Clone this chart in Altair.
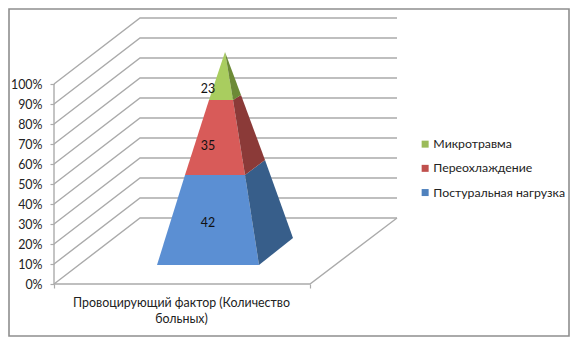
import altair as alt
import pandas as pd

FONT = "Lato"
GRID = "#ABABAB"
TEXT = "#222222"

# Series, legend order
series = ["Микротравма", "Переохлаждение", "Постуральная нагрузка"]
legend_colors = ["#9BBB59", "#C0504D", "#4F81BD"]
values = [23, 35, 42]
value_x = [208, 208, 208]
value_pct = [97.5, 69, 30.5]

# Percent axis
ticks = [0, 10, 20, 30, 40, 50, 60, 70, 80, 90, 100]
wall_front_x = 54
wall_back_x = 140
wall_right_x = 397
floor_right_x = 310
depth_pct = 33

# Pyramid faces: x position, percent height
face_names = ["blue_front", "blue_side", "red_front", "red_side", "green_front", "green_side"]
face_colors = ["#5B8FD3", "#375E8A", "#D85B59", "#8B3A38", "#A9CD5F", "#6C8A36"]
face_x = [
    [157, 259, 245, 185],
    [245, 259, 293, 265],
    [185, 245, 233, 209],
    [233, 245, 265, 241],
    [209, 233, 225],
    [233, 241, 225],
]
face_pct = [
    [9.5, 9.5, 54.5, 54.5],
    [54.5, 9.5, 23, 62],
    [54.5, 54.5, 92, 92],
    [92, 54.5, 62, 94.5],
    [92, 92, 116],
    [92, 94.5, 116],
]

grid_rows = []
for p in ticks:
    pts = [(wall_front_x, p), (wall_back_x, p + depth_pct), (wall_right_x, p + depth_pct)]
    for i, (x, y) in enumerate(pts):
        grid_rows.append({"id": f"g{p}", "i": i, "x": x, "y": y})
extra = {
    "axis": [(wall_front_x, 0), (wall_front_x, 100)],
    "floor": [(wall_front_x, 0), (floor_right_x, 0), (wall_right_x, depth_pct)],
}
for k, pts in extra.items():
    for i, (x, y) in enumerate(pts):
        grid_rows.append({"id": k, "i": i, "x": x, "y": y})

face_rows = []
for n, c, xs, ys in zip(face_names, face_colors, face_x, face_pct):
    for i, (x, y) in enumerate(zip(xs, ys)):
        face_rows.append({"face": n, "color": c, "i": i, "x": x, "y": y})

xs = alt.Scale(domain=[9, 569], nice=False, zero=False)
ys = alt.Scale(domain=[-26, 137.5], nice=False, zero=False)

x_axis = alt.Axis(
    values=[wall_front_x, floor_right_x], labels=False, domain=False, grid=False,
    tickColor=GRID, tickSize=4, tickWidth=1.2, offset=-52,
    title=["Провоцирующий фактор (Количество", "больных)"],
    titleFont=FONT, titleFontSize=12.4, titleFontWeight="normal", titleColor=TEXT,
    titleX=172, titleY=18, titleLineHeight=16, titleAlign="center", titleBaseline="middle",
)
y_axis = alt.Axis(
    values=ticks, labelExpr="datum.value + '%'", domain=False, grid=False,
    labelOverlap=False, labelSeparation=0, labelBound=False, labelFlush=False,
    tickColor=GRID, tickSize=4, tickWidth=1.2, offset=-45, title=None,
    labelFont=FONT, labelFontSize=12.4, labelColor=TEXT, labelPadding=8,
)

X = alt.X("x:Q", scale=xs, axis=x_axis)
Y = alt.Y("y:Q", scale=ys, axis=y_axis)

grid = alt.Chart(pd.DataFrame(grid_rows)).mark_line(color=GRID, strokeWidth=1.4).encode(
    x=X,
    y=Y,
    detail="id:N",
    order="i:Q",
)

faces = alt.Chart(pd.DataFrame(face_rows)).mark_line(
    interpolate="linear-closed", filled=True, strokeWidth=0
).encode(
    x=X,
    y=Y,
    detail="face:N",
    order="i:Q",
    fill=alt.Fill("color:N", scale=None),
)

labels_df = pd.DataFrame({"x": value_x, "y": value_pct, "v": values})
labels = alt.Chart(labels_df).mark_text(font=FONT, fontSize=12.4, color="#111111").encode(
    x=X, y=Y, text="v:Q"
)

legend_df = pd.DataFrame({"s": series, "x": [225] * 3, "y": [60] * 3})
legend = alt.Chart(legend_df).mark_point(filled=True, shape="square", size=0).encode(
    x=X,
    y=Y,
    color=alt.Color(
        "s:N",
        scale=alt.Scale(domain=series, range=legend_colors),
        sort=series,
        legend=alt.Legend(
            title=None, orient="none", legendX=410, legendY=129,
            symbolType="square", symbolSize=49, symbolOpacity=1, symbolStrokeWidth=0,
            labelFont=FONT, labelFontSize=12.3, labelColor=TEXT, labelOffset=2,
            rowPadding=11.2, padding=0, labelLimit=200,
        ),
    ),
)

chart = alt.layer(grid, legend, faces, labels).properties(
    width=560, height=327, padding=1, background="white",
    autosize=alt.AutoSizeParams(type="none"),
).configure_view(stroke="#8E8E8E", strokeWidth=1.6)

chart.save("out.html", embed_options={"renderer": "svg", "actions": False})
